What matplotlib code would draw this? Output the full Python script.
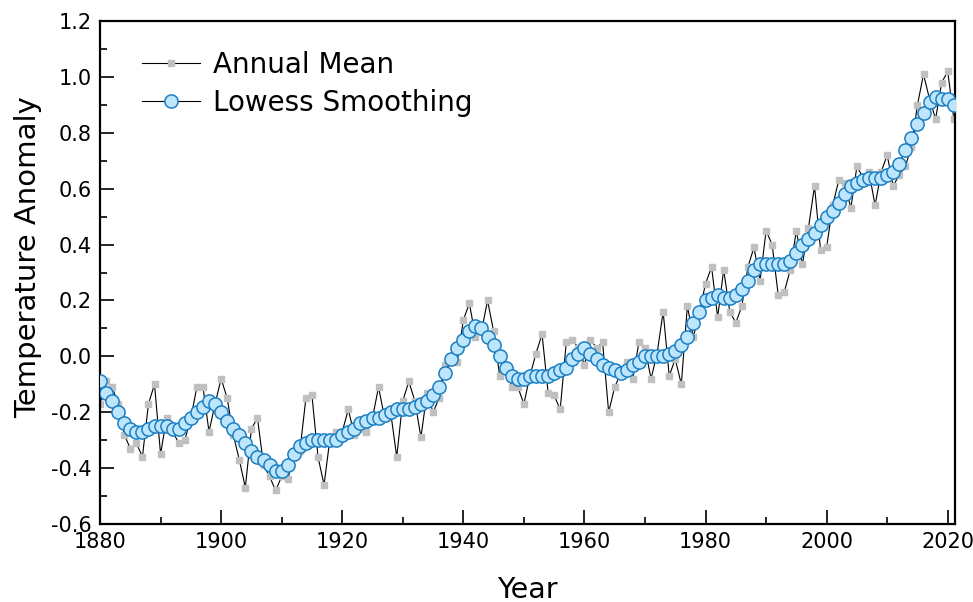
import numpy as np
import matplotlib
matplotlib.use("Agg")
import matplotlib.pyplot as plt
from matplotlib.ticker import MultipleLocator

# Anomalia de temperatura global (media anual e suavizacao Lowess)
years = np.arange(1880, 2022)

annual_mean = [
    -0.17, -0.09, -0.11, -0.17, -0.28, -0.33, -0.31, -0.36, -0.17, -0.10,
    -0.35, -0.22, -0.27, -0.31, -0.30, -0.22, -0.11, -0.11, -0.27, -0.17,
    -0.08, -0.15, -0.28, -0.37, -0.47, -0.26, -0.22, -0.39, -0.43, -0.48,
    -0.43, -0.44, -0.36, -0.34, -0.15, -0.14, -0.36, -0.46, -0.29, -0.27,
    -0.27, -0.19, -0.28, -0.26, -0.27, -0.22, -0.11, -0.22, -0.20, -0.36,
    -0.16, -0.09, -0.16, -0.29, -0.13, -0.20, -0.15, -0.03, -0.01, -0.02,
    0.13, 0.19, 0.07, 0.09, 0.20, 0.09, -0.07, -0.03, -0.11, -0.11,
    -0.17, -0.07, 0.01, 0.08, -0.13, -0.14, -0.19, 0.05, 0.06, 0.03,
    -0.03, 0.06, 0.03, 0.05, -0.20, -0.11, -0.06, -0.02, -0.08, 0.05,
    0.03, -0.08, 0.01, 0.16, -0.07, -0.01, -0.10, 0.18, 0.07, 0.16,
    0.26, 0.32, 0.14, 0.31, 0.16, 0.12, 0.18, 0.32, 0.39, 0.27,
    0.45, 0.40, 0.22, 0.23, 0.31, 0.45, 0.33, 0.46, 0.61, 0.38,
    0.39, 0.54, 0.63, 0.62, 0.53, 0.68, 0.64, 0.66, 0.54, 0.66,
    0.72, 0.61, 0.65, 0.68, 0.75, 0.90, 1.01, 0.92, 0.85, 0.98,
    1.02, 0.85,
]

lowess = [
    -0.09, -0.13, -0.16, -0.20, -0.24, -0.26, -0.27, -0.27, -0.26, -0.25,
    -0.25, -0.25, -0.26, -0.26, -0.24, -0.22, -0.20, -0.18, -0.16, -0.17,
    -0.20, -0.23, -0.26, -0.28, -0.31, -0.34, -0.36, -0.37, -0.39, -0.41,
    -0.41, -0.39, -0.35, -0.32, -0.31, -0.30, -0.30, -0.30, -0.30, -0.30,
    -0.28, -0.27, -0.26, -0.24, -0.23, -0.22, -0.22, -0.21, -0.20, -0.19,
    -0.19, -0.19, -0.18, -0.17, -0.16, -0.14, -0.11, -0.06, -0.01, 0.03,
    0.06, 0.09, 0.11, 0.10, 0.07, 0.04, 0.00, -0.04, -0.07, -0.08,
    -0.08, -0.07, -0.07, -0.07, -0.07, -0.06, -0.05, -0.04, -0.01, 0.01,
    0.03, 0.01, -0.01, -0.03, -0.04, -0.05, -0.06, -0.05, -0.03, -0.02,
    0.00, 0.00, 0.00, 0.00, 0.01, 0.02, 0.04, 0.07, 0.12, 0.16,
    0.20, 0.21, 0.22, 0.21, 0.21, 0.22, 0.24, 0.27, 0.31, 0.33,
    0.33, 0.33, 0.33, 0.33, 0.34, 0.37, 0.40, 0.42, 0.44, 0.47,
    0.50, 0.52, 0.55, 0.58, 0.61, 0.62, 0.63, 0.64, 0.64, 0.64,
    0.65, 0.66, 0.69, 0.74, 0.78, 0.83, 0.87, 0.91, 0.93, 0.92,
    0.92, 0.90,
]

fig = plt.figure(figsize=(9.73, 6.02), dpi=100)
ax = fig.add_axes([0.1028, 0.1296, 0.8787, 0.8354])

ax.plot(years, annual_mean, color='black', linewidth=0.8,
        marker='s', markersize=4.5, markerfacecolor='#c0c0c0',
        markeredgecolor='#c0c0c0', label='Annual Mean', zorder=2)
ax.plot(years, lowess, color='black', linewidth=0.8,
        marker='o', markersize=9.5, markerfacecolor='#bde5fb',
        markeredgecolor='#1b7fc4', markeredgewidth=1.1,
        label='Lowess Smoothing', zorder=3)

ax.set_xlim(1880, 2021.2)
ax.set_ylim(-0.6, 1.2)
ax.xaxis.set_major_locator(MultipleLocator(20))
ax.xaxis.set_minor_locator(MultipleLocator(10))
ax.yaxis.set_major_locator(MultipleLocator(0.2))
ax.yaxis.set_minor_locator(MultipleLocator(0.1))
ax.yaxis.set_major_formatter(plt.FuncFormatter(lambda v, p: f'{v:.1f}'))

ax.tick_params(which='both', direction='in', top=False, right=False,
               labelsize=15, width=1.2, pad=6)
ax.tick_params(which='major', length=10)
ax.tick_params(which='minor', length=5)
for s in ax.spines.values():
    s.set_linewidth(1.6)

ax.set_xlabel('Year', fontsize=20.5, labelpad=17)
ax.set_ylabel('Temperature Anomaly', fontsize=21)
ax.yaxis.set_label_coords(-0.068, 0.53)

ax.legend(loc='upper left', frameon=False, fontsize=20,
          bbox_to_anchor=(0.02, 0.99), handlelength=2.1,
          handletextpad=0.45, labelspacing=0.35)

plt.savefig('out.png', dpi=100)
